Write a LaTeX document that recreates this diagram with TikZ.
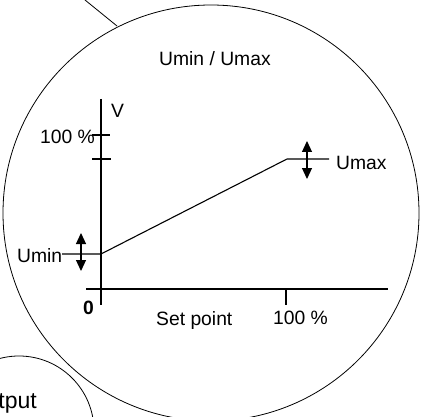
\documentclass[tikz,border=0pt]{standalone}
\usepackage{fontspec}
\setmainfont{Liberation Sans}
\usetikzlibrary{arrows.meta}
\begin{document}
\begin{tikzpicture}[x=1pt,y=-1pt,
  ln/.style={line width=1.1pt},
  thin/.style={line width=0.8pt},
  lbl/.style={inner sep=0pt,anchor=base west,font=\fontsize{19.3}{22}\selectfont},
  dbl/.style={line width=1.1pt,{Triangle[width=10pt,length=11pt]}-{Triangle[width=10pt,length=11pt]}}]
\useasboundingbox (0,0) rectangle (423,417);
\clip (0,0) rectangle (423,417);
% circles
\draw[thin] (211,213) circle[radius=208];
\draw[thin] (19,431) circle[radius=75];
\coordinate (lt) at (85,0);
\coordinate (lc) at (117,26);
\draw[thin] (lt) -- (lc);
% axes
\coordinate (ya) at (101,99);
\coordinate (yb) at (101,305);
\coordinate (xa) at (86,289);
\coordinate (xb) at (388,289);
\draw[ln] (ya) -- (yb);
\draw[ln] (xa) -- (xb);
% ticks
\draw[ln] (92,135) -- (110,135);
\draw[ln] (92,159) -- (111,159);
\draw[ln] (286,289) -- (286,305);
% curve
\coordinate (p0) at (62,254);
\coordinate (p1) at (101,254);
\coordinate (p2) at (287,159);
\coordinate (p3) at (329,159);
\draw[ln] (p0) -- (p1) -- (p2) -- (p3);
% arrows
\coordinate (a1) at (81,233);
\coordinate (a2) at (81,271);
\draw[dbl] (a1) -- (a2);
\coordinate (b1) at (307,141);
\coordinate (b2) at (307,179);
\draw[dbl] (b1) -- (b2);
% labels
\node[lbl] (title) at (159,66) {Umin / Umax};
\node[lbl] (V) at (111,118) {V};
\node[lbl] (yh) at (40,144) {100 \%};
\node[lbl] (umax) at (336,170) {Umax};
\node[lbl] (umin) at (17,262) {Umin};
\node[lbl,font=\fontsize{19.3}{22}\selectfont\bfseries] (zero) at (83,314) {0};
\node[lbl] (sp) at (156,325) {Set point};
\node[lbl] (xh) at (273,324) {100 \%};
\node[inner sep=0pt,anchor=base east,font=\fontsize{23}{26}\selectfont] (out) at (37,408) {Output};
\end{tikzpicture}
\end{document}
